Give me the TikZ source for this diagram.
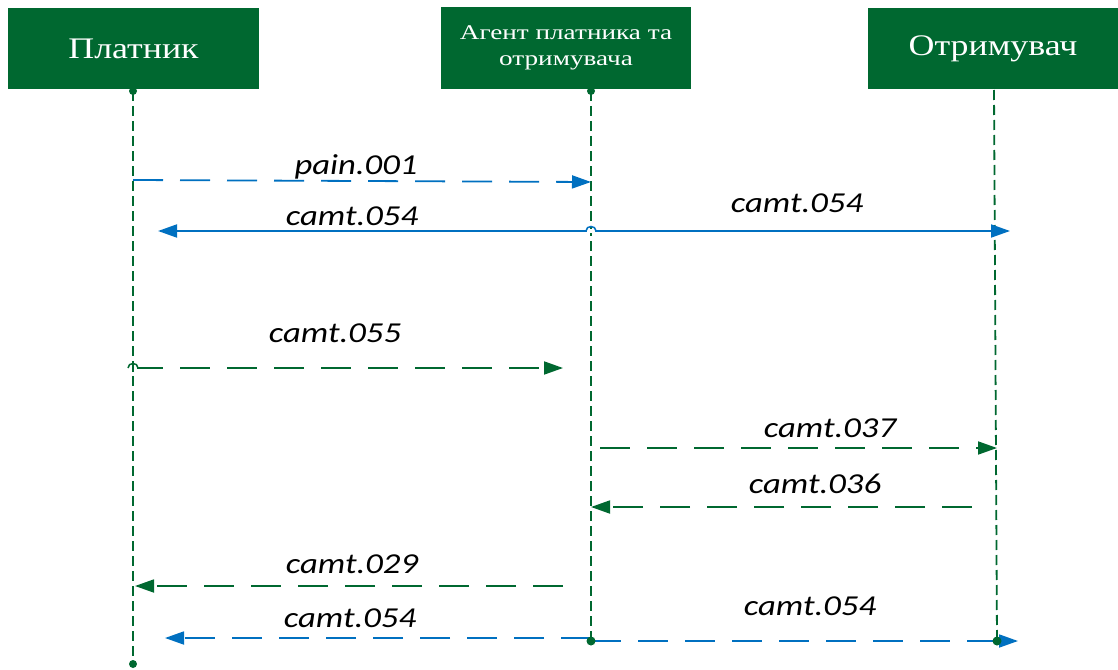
\documentclass[tikz,border=0pt]{standalone}
\usepackage{fontspec}
\setmainfont{Liberation Serif}
\newfontfamily\msgfont{Carlito}
\usetikzlibrary{arrows.meta}
\definecolor{dgreen}{RGB}{0,104,48}
\definecolor{mblue}{RGB}{0,112,192}
\tikzset{
  actor/.style={fill=dgreen, draw=none, text=white, minimum width=251bp, minimum height=81bp, inner sep=0pt, align=center},
  lifeline/.style={draw=dgreen, line width=1.8bp, dash pattern=on 10bp off 5bp},
  enddot/.style={fill=dgreen, draw=none},
  bluemsg/.style={draw=mblue, line width=1.8bp, -{Triangle[length=19bp,width=13bp]}},
  greenmsg/.style={draw=dgreen, line width=1.8bp, -{Triangle[length=19bp,width=13bp]}},
  longdash/.style={dash pattern=on 30bp off 17bp},
  msglabel/.style={anchor=base, inner sep=0pt, font=\msgfont\itshape\fontsize{29}{32}\selectfont},
}
\newcommand{\wide}[1]{\scalebox{1.2}[1]{#1}}
\begin{document}
\begin{tikzpicture}[x=1bp,y=-1bp]
\useasboundingbox (0,0) rectangle (1118,670);
% actors
\node[actor, font=\fontsize{30}{34}\selectfont] (pl) at (133.5,48.5) {\scalebox{1.2}[1]{Платник}};
\node[actor, minimum width=250bp, minimum height=82bp, font=\fontsize{21}{26}\selectfont] (ag) at (566,48) {\scalebox{1.3}[1]{Агент платника та}\\\scalebox{1.3}[1]{отримувача}};
\node[actor, minimum width=250bp, font=\fontsize{30}{34}\selectfont] (ot) at (993,48.5) {\scalebox{1.2}[1]{Отримувач}};
% lifeline ends
\coordinate (plT) at (133,91);
\coordinate (plB) at (133,664);
\coordinate (agT) at (591,91);
\coordinate (agB) at (591,641);
\coordinate (otT) at (994,90);
\coordinate (otB) at (997,641);
\draw[lifeline] (plT) -- (plB);
\draw[lifeline] (agT) -- (agB);
\draw[lifeline] (otT) -- (otB);
\fill[enddot] (plT) circle (4bp);
\fill[enddot] (agT) circle (4bp);
\fill[enddot] (plB) circle (4bp);
% message end points
\coordinate (m1s) at (133,180);   \coordinate (m1e) at (591,182);
\coordinate (m2s) at (591,231);   \coordinate (m2l) at (158,231);  \coordinate (m2r) at (1010,231);
\coordinate (m3s) at (133,368);   \coordinate (m3e) at (563,368);
\coordinate (m4s) at (600,448);   \coordinate (m4e) at (997,448);
\coordinate (m5s) at (972,507);   \coordinate (m5e) at (591,507);
\coordinate (m6s) at (563,586);   \coordinate (m6e) at (135,586);
\coordinate (m7s) at (591,638);   \coordinate (m7l) at (165,638);
\coordinate (m8s) at (591,641);   \coordinate (m8r) at (1018,641);
% messages
\draw[bluemsg, longdash] (m1s) -- (m1e);
\draw[bluemsg] (m2s) -- (m2l);
\draw[bluemsg] (m2s) -- (m2r);
\fill[white] ([xshift=-4bp,yshift=-2bp]m2s) rectangle ([xshift=4bp,yshift=2bp]m2s);
\draw[mblue, line width=1.5bp] ([xshift=-5bp]m2s) .. controls ([xshift=-5bp,yshift=6bp]m2s) and ([xshift=5bp,yshift=6bp]m2s) .. ([xshift=5bp]m2s);
\draw[greenmsg, longdash] (m3s) -- (m3e);
\fill[white] ([xshift=-4bp,yshift=-2bp]m3s) rectangle ([xshift=4bp,yshift=2bp]m3s);
\draw[dgreen, line width=1.5bp] ([xshift=-5bp]m3s) .. controls ([xshift=-5bp,yshift=6bp]m3s) and ([xshift=5bp,yshift=6bp]m3s) .. ([xshift=5bp]m3s);
\draw[dgreen, line width=1.8bp] ([yshift=-4bp]m3s) -- ([yshift=6bp]m3s);
\draw[greenmsg, longdash] (m4s) -- (m4e);
\draw[greenmsg, longdash] (m5s) -- (m5e);
\draw[greenmsg, longdash] (m6s) -- (m6e);
\draw[bluemsg, longdash] (m7s) -- (m7l);
\draw[bluemsg, longdash] (m8s) -- (m8r);
\fill[enddot] (agB) circle (4.5bp);
\fill[enddot] (otB) circle (4.5bp);
% labels
\node[msglabel] (l1) at (356,175) {\wide{pain.001}};
\node[msglabel] (l2) at (352,225) {\wide{camt.054}};
\node[msglabel] (l3) at (797,213) {\wide{camt.054}};
\node[msglabel] (l4) at (335,342) {\wide{camt.055}};
\node[msglabel] (l5) at (830,437) {\wide{camt.037}};
\node[msglabel] (l6) at (815,493) {\wide{camt.036}};
\node[msglabel] (l7) at (352,573) {\wide{camt.029}};
\node[msglabel] (l8) at (350,627) {\wide{camt.054}};
\node[msglabel] (l9) at (810,615) {\wide{camt.054}};
\end{tikzpicture}
\end{document}
